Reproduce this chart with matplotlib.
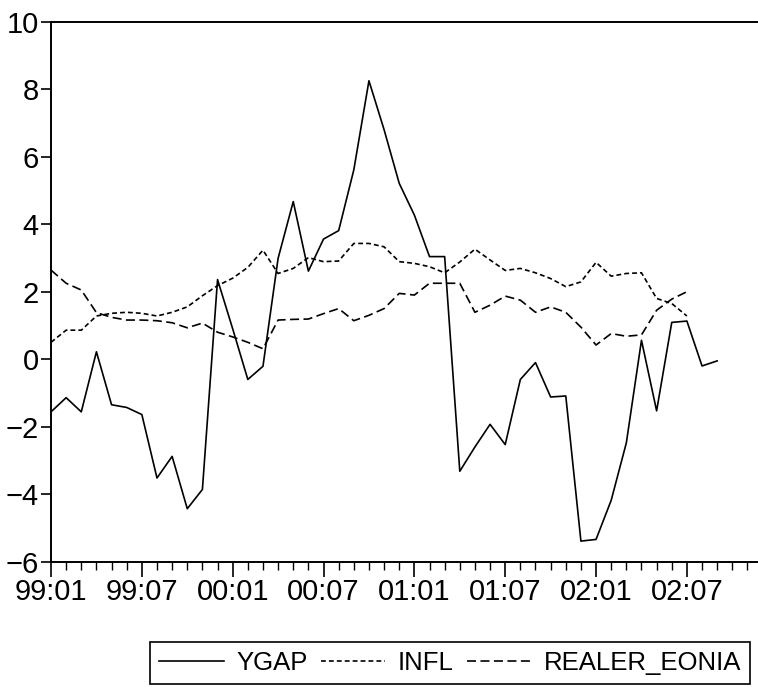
import numpy as np
import matplotlib.pyplot as plt

plt.rcParams['font.family'] = ['Liberation Sans', 'DejaVu Sans']
plt.rcParams['lines.scale_dashes'] = False

# monthly series, 1999:01 onwards
ygap = [-1.56, -1.14, -1.56, 0.22, -1.35, -1.43, -1.64, -3.52, -2.88, -4.43,
        -3.86, 2.36, 0.90, -0.60, -0.21, 2.99, 4.67, 2.61, 3.56, 3.81,
        5.61, 8.25, 6.80, 5.21, 4.27, 3.04, 3.04, -3.32, -2.60, -1.93,
        -2.53, -0.60, -0.10, -1.12, -1.09, -5.39, -5.34, -4.18, -2.48, 0.56,
        -1.53, 1.09, 1.13, -0.20, -0.05]
infl = [0.50, 0.86, 0.86, 1.28, 1.36, 1.39, 1.36, 1.28, 1.39, 1.55,
        1.88, 2.18, 2.40, 2.72, 3.23, 2.54, 2.69, 3.01, 2.89, 2.91,
        3.43, 3.43, 3.33, 2.89, 2.84, 2.74, 2.56, 2.88, 3.26, 2.94,
        2.63, 2.69, 2.56, 2.39, 2.15, 2.29, 2.87, 2.46, 2.54, 2.56,
        1.80, 1.65, 1.28]
realer_eonia = [2.64, 2.25, 2.05, 1.38, 1.24, 1.16, 1.16, 1.14, 1.08, 0.93,
                1.07, 0.80, 0.66, 0.50, 0.31, 1.16, 1.18, 1.19, 1.35, 1.50,
                1.14, 1.30, 1.50, 1.95, 1.90, 2.25, 2.25, 2.25, 1.39, 1.60,
                1.87, 1.75, 1.39, 1.55, 1.39, 0.95, 0.42, 0.76, 0.68, 0.72,
                1.45, 1.78, 2.00]
tick_labels = ['99:01', '99:07', '00:01', '00:07', '01:01', '01:07', '02:01', '02:07']

fig = plt.figure(figsize=(7.58, 6.87), dpi=100)
ax = fig.add_axes([51 / 758, 0.1824, 711.6 / 758, 0.786])

ax.plot(np.arange(len(ygap)), ygap, color='black', lw=1.2, label='YGAP')
ax.plot(np.arange(len(infl)), infl, color='black', lw=1.2,
        dashes=(3.5, 2.2), label='INFL')
ax.plot(np.arange(len(realer_eonia)), realer_eonia, color='black', lw=1.2,
        dashes=(6.5, 3.2), label='REALER_EONIA')

ax.set_xlim(0, 47)
ax.set_ylim(-6, 10)
ax.set_xticks(np.arange(0, 48, 6))
ax.set_xticklabels(tick_labels)
ax.set_xticks(np.arange(0, 48), minor=True)
ax.set_yticks(np.arange(-6, 11, 2))

ax.tick_params(axis='both', labelsize=21, color='black', width=1.2)
ax.tick_params(axis='x', which='major', length=11, pad=1)
ax.tick_params(axis='x', which='minor', length=6, width=1.0)
ax.tick_params(axis='y', length=7, pad=2)
for s in ax.spines.values():
    s.set_linewidth(1.4)

leg = fig.legend(loc='center', bbox_to_anchor=(0.594, 0.035), ncol=3,
                 fontsize=18.5, fancybox=False, edgecolor='black',
                 handlelength=2.5, handletextpad=0.5, columnspacing=0.5,
                 borderpad=0.35, borderaxespad=0, framealpha=1)
leg.get_frame().set_linewidth(1.2)

fig.savefig('out.png', dpi=100)
